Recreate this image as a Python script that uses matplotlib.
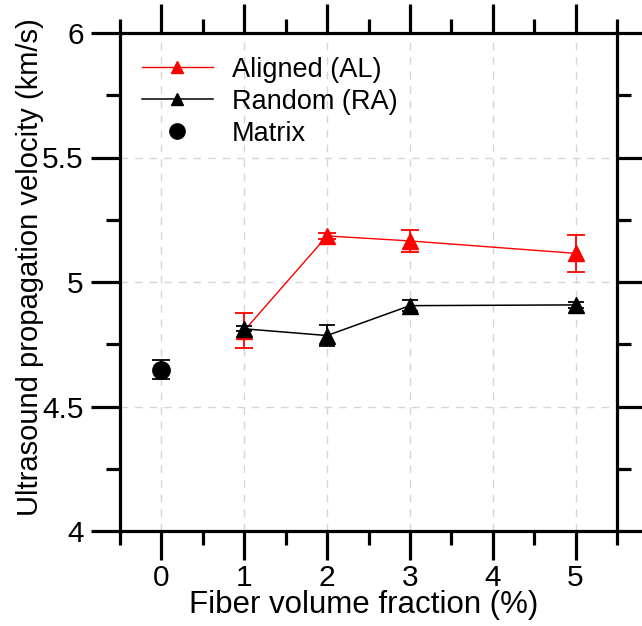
import matplotlib
matplotlib.use("Agg")
import matplotlib.pyplot as plt
from matplotlib.ticker import MultipleLocator
from matplotlib.lines import Line2D

plt.rcParams['font.family'] = ['Liberation Sans', 'DejaVu Sans']

x_fib = [1, 2, 3, 5]
al_vals = [4.805, 5.185, 5.165, 5.115]
al_err = [0.072, 0.012, 0.043, 0.075]
ra_vals = [4.812, 4.785, 4.905, 4.908]
ra_err = [0.010, 0.043, 0.022, 0.012]
mat_x = [0]
mat_vals = [4.648]
mat_err = [0.038]
series_labels = ['Aligned (AL)', 'Random (RA)', 'Matrix']

fig = plt.figure(figsize=(6.42, 6.26), dpi=100)
ax = fig.add_axes([120/642, 1-531/626, 497/642, 498/626])

ax.errorbar(x_fib, al_vals, yerr=al_err, color='red', marker='^', markersize=11,
            lw=1.0, capsize=6.3, capthick=1.3, elinewidth=1.3, zorder=3)
ax.errorbar(x_fib, ra_vals, yerr=ra_err, color='black', marker='^', markersize=11,
            lw=1.1, capsize=6.0, capthick=1.3, elinewidth=1.3, zorder=4)
ax.errorbar(mat_x, mat_vals, yerr=mat_err, color='black', marker='o', markersize=12.5,
            ls='none', capsize=6.3, capthick=1.3, elinewidth=1.3, zorder=4)

ax.set_xlim(-0.5, 5.5)
ax.set_ylim(4, 6)
ax.xaxis.set_major_locator(MultipleLocator(1))
ax.xaxis.set_minor_locator(MultipleLocator(0.5))
ax.set_yticks([4, 4.5, 5, 5.5, 6])
ax.set_yticklabels(['4', '4.5', '5', '5.5', '6'])
ax.yaxis.set_minor_locator(MultipleLocator(0.25))

ax.grid(True, which='major', ls=(0, (5.5, 5)), color='#d6d6d6', lw=1)
for s in ax.spines.values():
    s.set_linewidth(2.3)
ax.tick_params(which='both', top=True, right=True, direction='out', width=2.3)
ax.tick_params(which='major', length=21, labelsize=21.5)
ax.tick_params(which='minor', length=10)
ax.tick_params(axis='x', which='major', pad=2.5)
ax.tick_params(axis='y', which='major', pad=5)

ax.set_xlabel('Fiber volume fraction (%)', fontsize=22.5)
ax.set_ylabel('Ultrasound propagation velocity (km/s)', fontsize=21)
ax.xaxis.set_label_coords(0.49, -0.119)
ax.yaxis.set_label_coords(-0.153, 0.529)

handles = [
    Line2D([], [], color='red', lw=1.0, marker='^', markersize=9),
    Line2D([], [], color='black', lw=1.1, marker='^', markersize=9),
    Line2D([], [], color='black', ls='none', marker='o', markersize=11),
]
leg = ax.legend(handles, series_labels, loc='upper left', frameon=False, fontsize=19.5,
                handlelength=2.62, handletextpad=0.7, labelspacing=0.22,
                borderpad=0.0, borderaxespad=0.0, bbox_to_anchor=(0.044, 0.952))

fig.savefig('out.png', dpi=100)
